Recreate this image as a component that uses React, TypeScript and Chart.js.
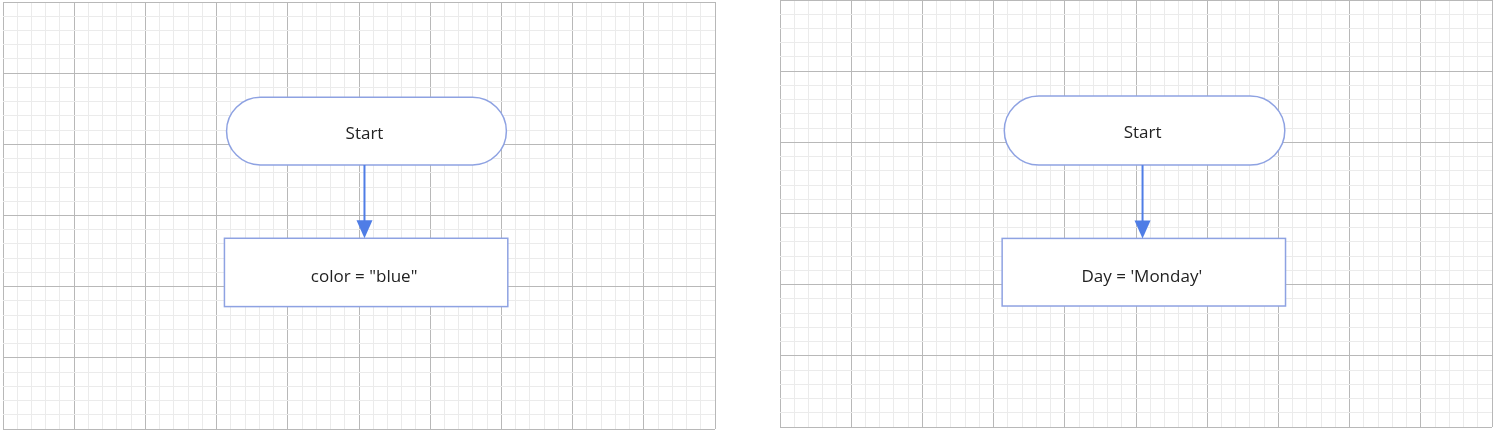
import React, { useEffect, useRef } from 'react';
import { Chart, registerables } from 'chart.js';

Chart.register(...registerables);

// grid is 10 x 6 major cells, each split into 5 minor cells
const gridCols = 10;
const gridRows = 6;
const minorPerMajor = 5;

// node texts per panel
const startLabels = ['Start', 'Start'];
const processLabels = ['color = "blue"', "Day = 'Monday'"];
// node boxes in major-cell units: [x0, x1, y0, y1]
const startBoxes = [[3.14, 7.07, 1.34, 2.29], [3.15, 7.09, 1.35, 2.32]];
const processBoxes = [[3.11, 7.09, 3.32, 4.28], [3.12, 7.1, 3.35, 4.3]];

const lineBlue = '#8ea2e2';
const arrowBlue = '#4f7de6';

const flowPlugin = (panel: number) => ({
    id: 'flow' + panel,
    afterDatasetsDraw(chart: any) {
        const { ctx, scales } = chart;
        const px = (v: number) => scales.x.getPixelForValue(v * minorPerMajor);
        const py = (v: number) => scales.y.getPixelForValue(v * minorPerMajor);
        const s = startBoxes[panel];
        const p = processBoxes[panel];
        ctx.save();
        ctx.font = '17px "Open Sans", sans-serif';
        ctx.textAlign = 'center';
        ctx.textBaseline = 'middle';

        // terminal
        const sx0 = px(s[0]), sx1 = px(s[1]), sy0 = py(s[2]), sy1 = py(s[3]);
        const r = (sy1 - sy0) / 2;
        ctx.beginPath();
        ctx.moveTo(sx0 + r, sy0);
        ctx.lineTo(sx1 - r, sy0);
        ctx.arc(sx1 - r, sy0 + r, r, -Math.PI / 2, Math.PI / 2);
        ctx.lineTo(sx0 + r, sy1);
        ctx.arc(sx0 + r, sy0 + r, r, Math.PI / 2, Math.PI * 1.5);
        ctx.closePath();
        ctx.fillStyle = '#fff';
        ctx.fill();
        ctx.strokeStyle = lineBlue;
        ctx.lineWidth = 1.5;
        ctx.stroke();
        ctx.fillStyle = '#222';
        ctx.fillText(startLabels[panel], (sx0 + sx1) / 2 - 2, (sy0 + sy1) / 2 + 3);

        // process
        const qx0 = px(p[0]), qx1 = px(p[1]), qy0 = py(p[2]), qy1 = py(p[3]);
        ctx.fillStyle = '#fff';
        ctx.fillRect(qx0, qy0, qx1 - qx0, qy1 - qy0);
        ctx.strokeRect(qx0, qy0, qx1 - qx0, qy1 - qy0);
        ctx.fillStyle = '#222';
        ctx.fillText(processLabels[panel], (qx0 + qx1) / 2 - 2, (qy0 + qy1) / 2 + 5);

        // arrow
        const ax = (sx0 + sx1) / 2 - 2;
        ctx.strokeStyle = arrowBlue;
        ctx.lineWidth = 2;
        ctx.beginPath();
        ctx.moveTo(ax, sy1);
        ctx.lineTo(ax, qy0 - 14);
        ctx.stroke();
        ctx.fillStyle = arrowBlue;
        ctx.beginPath();
        ctx.moveTo(ax - 8, qy0 - 18);
        ctx.lineTo(ax + 8, qy0 - 18);
        ctx.lineTo(ax, qy0);
        ctx.closePath();
        ctx.fill();
        ctx.restore();
    },
});

const gridColor = (c: any) =>
    c.tick && c.tick.value % minorPerMajor === 0 ? '#b8b8b8' : '#ebebeb';

const Panel: React.FC<{ panel: number; left: number; top: number }> = ({ panel, left, top }) => {
    const chartRef = useRef<HTMLCanvasElement | null>(null);

    useEffect(() => {
        const ctx = chartRef.current?.getContext('2d');
        if (!ctx) return;
        const axis = (max: number, reverse: boolean) => ({
            type: 'linear' as const,
            min: 0,
            max: max * minorPerMajor,
            reverse,
            ticks: { display: false, stepSize: 1, autoSkip: false },
            grid: { color: gridColor, lineWidth: 1, drawTicks: false },
            border: { display: false },
        });
        const chart = new Chart(ctx, {
            type: 'scatter',
            data: { datasets: [{ data: [] }] },
            options: {
                animation: false,
                responsive: false,
                layout: { padding: 1 },
                plugins: { legend: { display: false }, tooltip: { enabled: false } },
                scales: { x: axis(gridCols, false), y: axis(gridRows, true) },
            },
            plugins: [flowPlugin(panel)],
        });
        return () => chart.destroy();
    }, [panel]);

    return (
        <canvas
            ref={chartRef}
            width={714}
            height={429}
            style={{ position: 'absolute', left, top, width: 714, height: 429 }}
        />
    );
};

export default function App() {
    return (
        <div style={{ position: 'fixed', left: 0, top: 0, width: 1494, height: 431, background: '#fff' }}>
            <Panel panel={0} left={2} top={1} />
            <Panel panel={1} left={779} top={-1} />
        </div>
    );
}
